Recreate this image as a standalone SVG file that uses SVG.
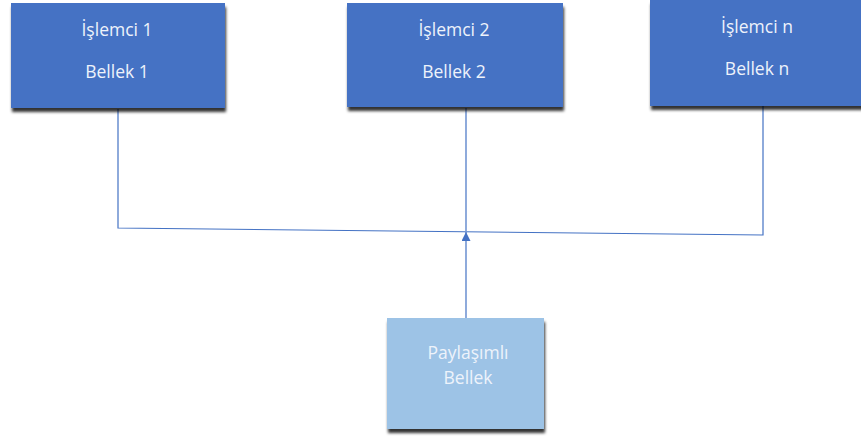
<svg xmlns="http://www.w3.org/2000/svg" width="861" height="436" viewBox="0 0 861 436">
<defs>
<style>
.box{fill:#4472C4;filter:url(#sh);}
.sbox{fill:#9DC3E6;filter:url(#sh);}
.t{font-family:"Open Sans","Liberation Sans",sans-serif;font-size:17.5px;fill:#EEF3FB;text-anchor:middle;}
.ln{stroke:#4472C4;stroke-width:1.2;fill:none;}
</style>
<filter id="sh" x="-10%" y="-10%" width="125%" height="130%">
<feDropShadow dx="1" dy="4" stdDeviation="1.5" flood-color="#000" flood-opacity="0.8"/>
</filter>
<marker id="arr" viewBox="0 0 10 10" refX="10" refY="5" markerWidth="9" markerHeight="9" markerUnits="userSpaceOnUse" orient="auto">
<path d="M0,0 L10,5 L0,10 z" fill="#4472C4"/>
</marker>
</defs>
<g id="connectors">
<polyline class="ln" points="118,109 118,228 763,235 763,106"/>
<line class="ln" x1="466" y1="108" x2="466" y2="231"/>
<line class="ln" x1="466" y1="318" x2="466" y2="232" marker-end="url(#arr)"/>
</g>
<g id="islemci1">
<rect class="box" x="11" y="3" width="214" height="105"/>
<text class="t" x="117" y="36">İşlemci 1</text>
<text class="t" x="117" y="78">Bellek 1</text>
</g>
<g id="islemci2">
<rect class="box" x="347" y="3" width="216" height="104"/>
<text class="t" x="454" y="36">İşlemci 2</text>
<text class="t" x="454" y="78">Bellek 2</text>
</g>
<g id="islemcin">
<rect class="box" x="650" y="0" width="216" height="106"/>
<text class="t" x="757" y="33">İşlemci n</text>
<text class="t" x="757" y="75">Bellek n</text>
</g>
<g id="paylasimli">
<rect class="sbox" x="387" y="318" width="157" height="111"/>
<text class="t" x="468" y="359">Paylaşımlı</text>
<text class="t" x="468" y="384">Bellek</text>
</g>
</svg>
